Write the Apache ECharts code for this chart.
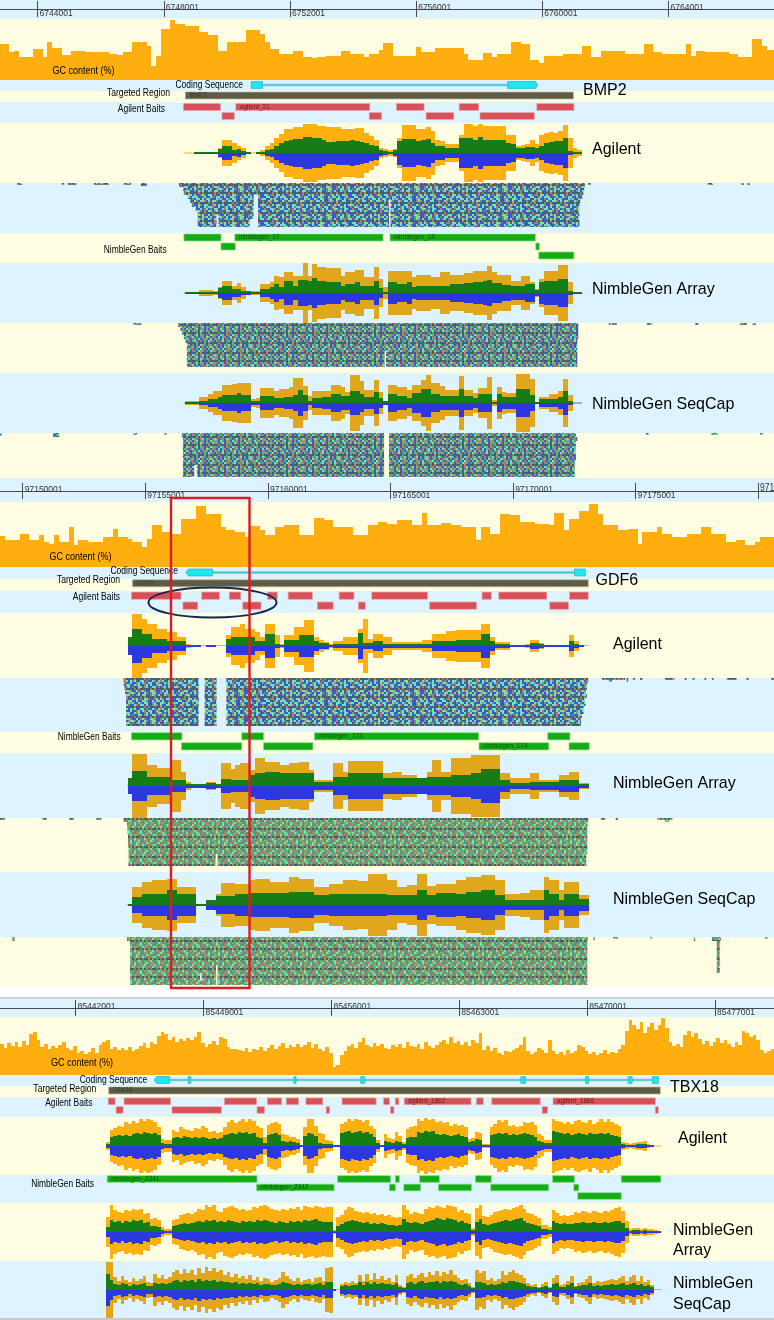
<!DOCTYPE html>
<html>
<head>
<meta charset="utf-8">
<title>Coverage at BMP2, GDF6 and TBX18</title>
<style>
  html, body { margin: 0; padding: 0; background: #fff; }
  #chart { width: 774px; height: 1320px; }
</style>
<script src="https://cdn.jsdelivr.net/npm/echarts@6/dist/echarts.min.js"></script>
</head>
<body>
<div id="chart"></div>
<script>
// genome window shown by each panel (bp)
const bmp2Window = [6742809, 6767345]
const gdf6Window = [97149075, 97180639]
const tbx18Window = [85437863, 85480224]

// ruler ticks, [labels above the line, labels below the line]
const bmp2Ticks = [[6748001, 6756001, 6764001], [6744001, 6752001, 6760001]]
const gdf6Ticks = [[97150001, 97160001, 97170001], [97155001, 97165001, 97175001]]
const gdf6EdgeTick = 97180001
const tbx18Ticks = [[85442001, 85456001, 85470001], [85449001, 85463001, 85477001]]

// GC content, fixed size bins from the left of the window
const bmp2Gc = [36,36,28,29,23,23,23,31,31,23,38,32,32,25,25,29,29,29,28,28,28,28,28,26,26,25,28,28,38,38,38,34,14,24,51,51,60,56,56,54,54,54,48,48,45,45,29,29,38,38,38,38,50,50,50,46,38,31,31,26,26,26,29,29,23,23,22,23,23,24,24,24,29,29,26,26,26,23,26,26,30,37,37,24,24,24,24,24,33,28,28,28,32,32,32,32,32,32,26,20,20,20,27,27,23,26,26,26,38,38,36,36,20,20,17,24,24,24,24,26,26,26,26,34,34,23,23,29,29,29,29,29,26,26,26,26,36,36,28,28,26,26,26,26,26,36,24,29,29,28,28,28,28,28,26,26,23,23,23,41,41,34,30,30]
const gdf6Gc = [31,27,27,27,33,33,27,27,32,25,23,32,25,25,40,22,27,27,25,25,25,30,30,38,30,30,28,25,25,20,28,42,42,35,35,33,33,48,48,48,61,61,53,53,53,40,37,37,35,35,30,41,41,37,32,32,40,40,42,42,42,32,32,32,49,49,47,47,40,40,40,40,32,32,32,42,42,45,45,43,43,47,47,47,42,42,54,42,42,42,44,44,42,42,40,40,40,27,40,40,33,33,53,53,52,52,45,45,45,43,43,43,42,54,54,37,48,48,56,56,63,63,53,42,42,42,37,37,38,38,23,35,35,35,40,33,33,30,30,30,33,33,33,40,40,33,33,33,25,25,27,27,22,22,25,30,30,30]
const tbx18Gc = [31,27,32,29,33,28,34,30,41,43,35,28,31,26,29,27,30,33,27,25,29,22,24,21,23,27,22,30,33,35,26,28,25,27,25,28,24,26,29,32,27,33,31,39,43,41,35,38,33,36,34,37,35,38,43,32,28,31,34,30,38,36,28,26,26,25,24,27,23,26,25,28,24,27,30,26,29,32,27,30,28,31,28,30,33,27,31,26,24,28,22,8,10,20,24,29,31,27,33,37,30,28,32,29,31,27,26,30,28,31,27,33,29,28,31,26,33,29,27,30,33,35,31,38,32,34,30,33,29,35,32,42,25,29,24,27,22,20,24,23,25,27,30,38,24,21,23,27,25,22,35,24,21,23,20,25,22,24,30,28,24,21,23,20,22,25,21,23,22,26,30,44,55,50,46,53,42,48,52,45,50,57,47,33,29,31,28,40,44,38,42,36,31,34,29,33,37,32,35,31,28,33,30,44,42,38,40,35,25,22,24,26]

// coverage bins: total depth and the strand coloured part of it
const bmp2AgilentTotal = [0,0,1,1,1,1,1,5,13,13,10,7,5,1,0,1,3,7,10,15,19,24,24,26,26,29,29,29,27,27,26,26,26,24,24,24,25,25,20,17,13,5,4,3,4,15,28,28,28,24,24,26,22,13,12,9,9,9,18,29,29,27,29,27,27,27,27,27,18,18,7,8,9,13,9,18,20,21,20,22,28,15,5,3]
const bmp2AgilentStrand = [0,0,1,1,1,1,1,4,7,7,3,4,2,1,0,1,1,3,4,7,10,12,13,14,14,16,16,15,15,13,11,11,12,12,12,13,12,11,10,8,7,3,2,1,3,12,14,14,14,12,13,14,10,7,7,5,5,5,15,15,15,13,16,13,13,13,13,13,10,9,5,5,6,6,5,7,10,11,12,12,15,2,1,1]
const bmp2ArrayTotal = [1,1,1,3,3,3,2,6,12,12,7,10,6,2,2,2,9,9,11,17,16,21,21,17,17,30,17,29,26,26,25,25,25,17,21,21,23,23,16,16,26,14,6,22,22,22,22,22,16,18,18,18,16,16,21,21,18,18,18,20,20,22,22,22,27,21,18,18,18,12,12,17,17,11,4,14,22,22,22,28,28,11,1,1]
const bmp2ArrayStrand = [1,1,1,1,1,1,1,5,7,7,4,4,2,2,1,1,4,4,6,9,6,12,12,7,13,13,12,15,12,12,11,11,11,7,9,9,11,7,7,7,12,5,1,11,11,9,9,11,6,7,7,7,7,7,7,7,9,9,9,10,10,11,11,12,13,10,10,8,8,7,7,7,9,9,3,11,12,12,12,14,14,2,1,1]
const bmp2SeqCapTotal = [2,2,2,6,6,9,12,12,18,18,19,20,20,20,4,5,15,15,15,12,14,14,16,25,25,17,7,12,12,12,12,18,18,16,11,28,28,22,13,13,23,11,2,18,18,16,16,13,18,18,23,28,20,20,17,13,13,13,27,13,13,10,15,15,26,3,16,11,10,10,29,29,29,24,1,6,6,9,9,12,24,8,0,0]
const bmp2SeqCapStrand = [1,1,1,2,2,4,4,6,8,8,8,10,8,8,2,2,7,7,7,5,5,6,6,8,13,8,2,5,5,6,6,9,9,7,7,12,12,9,6,6,11,5,2,9,9,7,7,5,10,10,14,14,9,9,7,7,7,7,14,7,7,5,9,9,9,1,9,6,6,6,14,14,14,8,1,4,4,4,4,6,12,2,0,0]

const gdf6AgilentTotal = [9,32,32,27,22,22,17,17,14,14,9,9,2,1,1,0,1,1,0,0,11,19,19,22,17,17,14,9,22,22,11,2,11,11,19,19,26,26,9,6,4,2,5,5,9,9,9,17,27,7,12,12,9,9,4,4,4,4,4,4,6,6,12,12,12,15,15,16,16,16,16,16,22,22,9,4,4,4,1,1,1,2,6,6,3,1,1,1,1,1,11,5,1,0]
const gdf6AgilentStrand = [9,17,17,12,12,7,7,7,5,5,5,5,1,1,1,0,1,1,0,0,7,9,9,9,9,9,5,5,12,12,2,1,6,6,6,11,11,11,5,3,3,1,2,2,2,2,2,13,3,3,5,5,2,2,2,2,2,2,2,2,2,2,5,5,5,5,5,6,6,6,6,6,12,12,5,2,2,2,1,1,1,1,3,3,2,1,1,1,1,1,5,2,1,0]
const gdf6ArrayTotal = [8,32,32,32,21,21,18,18,18,26,26,14,4,2,2,1,4,4,2,23,23,17,21,23,23,16,28,28,24,24,24,21,21,23,23,24,24,16,6,6,6,6,23,23,14,25,25,25,25,25,25,25,13,13,14,14,11,11,11,8,8,14,26,26,14,14,28,28,28,28,31,31,31,31,31,31,13,13,8,8,8,8,13,13,6,6,6,6,11,11,14,14,3,3]
const gdf6ArrayStrand = [8,15,15,15,9,9,9,9,9,6,6,6,2,2,2,2,3,3,2,7,7,6,6,6,6,11,13,13,14,14,14,13,13,13,13,13,13,13,4,4,4,4,9,9,9,13,13,13,13,13,13,13,8,8,8,8,8,8,8,8,8,9,9,9,9,9,11,11,11,11,13,13,17,17,17,17,6,6,3,3,3,3,4,4,4,4,4,4,6,6,6,6,2,2]
const gdf6SeqCapTotal = [1,18,18,23,23,25,25,25,26,26,18,18,18,18,1,1,5,5,11,22,22,22,21,21,21,25,26,26,26,23,23,23,23,28,28,26,26,26,18,18,18,21,21,21,25,25,25,24,24,31,31,31,31,25,25,18,18,20,20,31,31,19,19,21,21,21,21,25,25,28,28,28,30,30,30,25,25,11,11,11,12,12,15,15,15,28,25,25,15,23,23,23,10,10]
const gdf6SeqCapStrand = [1,8,8,11,11,11,11,11,15,15,11,11,11,11,1,1,5,5,9,9,9,9,11,11,11,12,12,12,12,12,12,12,12,13,13,13,13,13,10,10,10,11,11,11,11,11,11,11,11,11,11,11,11,10,10,10,10,10,10,15,15,10,10,12,12,12,12,11,11,13,13,13,15,15,15,10,10,5,5,5,5,5,5,5,5,15,11,11,5,11,11,11,6,6]

const tbx18AgilentTotal = [4,16,18,20,19,24,22,25,23,27,25,27,26,24,19,7,6,6,16,14,19,17,16,15,18,17,20,18,14,15,13,14,19,24,26,23,25,27,24,27,25,20,18,9,21,23,24,22,12,11,9,9,7,1,19,27,27,20,13,12,6,5,1,1,22,24,27,25,27,26,24,26,20,17,6,1,12,8,7,14,10,4,17,19,20,27,25,28,26,27,24,25,23,24,20,22,20,21,19,7,8,14,13,2,2,19,22,26,24,26,20,21,19,20,24,23,24,21,12,10,6,6,27,25,24,22,24,22,25,26,24,23,26,22,24,27,24,27,24,22,20,4,3,2,3,4,4,5,2,1,0,0]
const tbx18AgilentStrand = [2,9,10,11,10,11,10,12,13,12,14,13,12,13,11,3,2,2,8,9,8,10,9,8,9,8,9,8,7,8,7,8,11,12,13,12,14,13,14,12,13,9,8,3,11,12,13,11,5,4,5,4,3,1,10,13,12,10,3,2,2,2,1,1,13,14,15,13,14,15,13,14,12,9,3,1,5,4,3,5,4,2,8,9,9,14,13,15,14,15,12,11,12,11,10,11,12,10,9,4,5,7,6,1,1,11,12,13,12,13,11,12,11,12,13,12,11,9,5,4,3,3,15,14,13,12,13,11,12,13,12,11,13,12,12,13,12,13,11,10,9,2,1,1,1,2,2,2,1,1,0,0]
const tbx18ArrayTotal = [15,27,22,20,19,22,21,23,22,23,18,19,13,14,12,5,3,3,12,13,17,18,19,18,20,23,22,27,25,27,21,20,24,25,26,24,22,23,21,22,25,24,26,27,25,23,22,21,23,22,24,23,25,22,26,25,24,26,25,24,25,25,2,15,17,22,25,24,21,20,19,20,18,19,17,18,16,17,15,14,15,27,22,18,20,19,18,23,25,24,26,25,24,27,26,25,20,22,19,18,4,24,27,16,15,17,20,21,22,23,22,24,25,27,23,19,18,16,14,7,7,5,22,19,16,17,16,17,20,19,21,20,19,21,20,19,21,20,22,24,25,21,11,3,4,4,3,4,3,3,2,1]
const tbx18ArrayStrand = [5,12,10,11,9,11,10,12,11,12,9,10,6,6,5,2,1,1,6,7,8,9,8,9,10,11,10,12,11,12,10,11,10,12,11,10,9,11,10,11,10,12,11,12,11,10,9,11,10,9,11,10,11,10,12,11,12,13,11,10,10,10,1,6,8,10,11,12,11,10,9,10,8,9,8,9,8,7,7,6,7,13,10,9,10,9,8,10,11,12,14,13,12,14,13,12,10,11,9,8,2,10,13,8,7,8,9,10,11,12,11,12,13,14,11,9,8,7,6,3,3,2,11,9,8,9,8,8,9,9,10,9,9,10,9,9,10,9,10,11,11,9,4,1,2,2,1,2,1,1,1,1]
const tbx18SeqCapTotal = [28,28,13,9,14,10,8,12,9,11,14,8,7,16,12,15,11,13,18,20,16,21,17,20,15,22,17,23,19,22,18,20,15,18,13,16,12,14,11,15,10,13,9,12,11,8,10,12,18,14,11,9,12,8,10,11,8,12,13,9,22,23,1,0,6,8,7,9,7,15,9,16,10,17,11,14,10,12,8,15,5,3,14,16,12,15,17,13,18,15,19,14,18,16,20,15,12,10,11,7,3,20,17,19,10,12,9,11,19,15,18,20,17,15,12,7,5,6,3,6,8,3,12,15,5,6,9,14,4,7,8,11,14,7,9,8,9,10,11,10,12,14,9,13,15,9,14,8,10,5,0,0]
const tbx18SeqCapStrand = [16,10,6,5,7,6,4,6,5,6,7,4,4,7,6,7,6,7,9,10,8,10,9,10,8,11,9,10,9,10,8,9,8,8,7,8,6,7,6,7,6,7,5,6,6,5,5,6,8,7,6,5,6,5,6,6,5,6,7,5,8,8,1,0,4,5,4,5,5,8,5,8,6,8,6,7,6,6,5,7,3,2,7,8,6,8,9,7,8,8,9,7,9,8,9,8,6,5,6,4,2,8,8,7,5,6,5,6,8,7,9,9,8,7,6,4,3,3,2,3,4,2,6,7,3,3,5,7,3,4,5,5,7,4,5,4,5,5,6,5,6,7,5,6,7,5,6,4,5,3,0,0]

// intervals in bp from the left of the window: [start, end, row, name]
const bmp2Cds = [[7960, 8321, 0, 0], [16093, 17049, 0, 1]]
const bmp2CdsLine = [[8321, 16093, 0]]
const bmp2Target = [[5876, 18177, 0, 'BMP2']]
const bmp2AgilentBaits = [[5814,6989,0],[7475,11721,0,'agilent_21'],[12567,13445,0],[14557,15169,0],[17018,18193,0],[7036,7428,1],[11705,12097,1],[13508,14385,1],[15216,16939,1]]
const bmp2NimbleBaits = [[5829,7005,0],[7443,12144,0,'nimblegen_17'],[12364,16971,0,'nimblegen_18'],[7005,7459,1],[16986,17096,1],[17080,18193,2]]

const gdf6Cds = [[7580, 8669, 0, -1], [23426, 23869, 0, 0]]
const gdf6CdsLine = [[8669, 23426, 0]]
const gdf6Target = [[5403, 23990, 0, 'GDF6']]
const gdf6AgilentBaits = [[5363,7379,0],[8225,8951,0],[9354,9818,0],[10907,11310,0],[11753,12741,0],[13830,14435,0],[15160,17438,0],[19656,20039,0],[20341,22297,0],[23224,23990,0],[7459,8064,1],[9899,10644,1],[12943,13588,1],[14616,14898,1],[17519,19434,1],[22418,23184,1]]
const gdf6NimbleBaits = [[5363,7419,0],[9858,10745,0],[12822,19515,0,'nimblegen_173'],[22337,23244,0],[7399,9858,1],[10745,12761,1],[19535,22378,1,'nimblegen_174'],[23204,24031,1]]

const tbx18Cds = [[8440,9278,0,-1],[10306,10441,0,0],[16095,16203,0,0],[19747,19963,0,0],[28511,28754,0,0],[32054,32217,0,0],[34381,34597,0,0],[35706,36031,0,0]]
const tbx18CdsLine = [[9278, 35706, 0]]
const tbx18Target = [[5951, 36139, 0, 'TBX18']]
const tbx18AgilentBaits = [[5924,6303,0],[6790,9332,0],[12281,14039,0],[14634,15419,0],[15662,16338,0],[16744,17664,0],[18719,20585,0],[20991,21315,0],[21640,21829,0],[22127,25779,0,'agilent_1862'],[26076,26455,0],[26915,29566,0],[30269,35868,0,'agilent_1866'],[6357,6735,1],[9413,12118,1],[14066,14472,1],[17853,18042,1],[21370,21559,1],[29674,29971,1],[35868,36031,1]]
const tbx18NimbleBaits = [[5870,14066,0,'nimblegen_2341'],[18475,21370,0],[21640,21856,0],[22965,24047,0],[26022,26888,0],[30242,31432,0],[34003,36166,0],[14039,18286,1,'nimblegen_2342'],[21315,21640,1],[22100,23020,1],[23993,25806,1],[26861,30026,1],[31405,31676,1],[31621,34003,2]]

// read stacks, each row: left edge, right edge; gaps and stray reads [start, end, fromRow, toRow]
const bmp2AgilentLeft = [5673,5798,5829,5955,6033,6080,6190,6268,6268,6268,6268]
const bmp2AgilentRight = [18538,18520,18491,18459,18400,18365,18365,18365,18365,18365,18365]
const bmp2AgilentGaps = [[8039,8180,3,11],[12332,12379,4,11],[6864,6926,8,11],[7913,8039,9,11]]
const bmp2AgilentStray = [[548,705,0,0.45],[1959,2037,0,0.45],[2147,2429,0,0.45],[2977,3447,0,0.45],[3917,4152,0,0.45],[4466,4654,0,0.7],[18648,18726,0,0.45],[22440,22597,0,0.45],[23505,23583,0,0.45],[23693,23771,0,0.45]]
const bmp2ArrayLeft = [5641,5720,5767,5829,5876,5923,5923,5923,5923,5923,5923]
const bmp2ArrayRight = [18334,18334,18334,18334,18300,18300,18300,18300,18300,18300,18300]
const bmp2ArrayGaps = [[12191,12238,7,11]]
const bmp2ArrayStray = [[4230,4480,0,0.45],[19300,19550,0,0.45],[20500,20680,0,0.45],[22030,22150,0,0.45],[23450,23680,0,0.45],[23850,23960,0,0.45]]
const bmp2SeqCapLeft = [5767,5798,5798,5798,5798,5798,5798,5798,5798,5798,5798]
const bmp2SeqCapRight = [18255,18300,18255,18255,18255,18255,18255,18220,18220,18220,18220]
const bmp2SeqCapGaps = [[12176,12332,0,11],[6158,6237,8,11]]
const bmp2SeqCapStray = [[0,50,0,0.6],[1680,1880,0,1],[4230,4350,0,0.45],[5210,5290,0,0.45],[20480,20560,0,0.45],[22550,22760,0,0.45],[24100,24200,0,0.45]]

const gdf6AgilentLeft = [5040,5040,5080,5100,5141,5141,5141,5141,5141,5141,5141,5141]
const gdf6AgilentRight = [23990,23950,23930,23890,23930,23850,23880,23800,23800,23730,23688,23688]
const gdf6AgilentGaps = [[8104,8346,0,12],[8830,9233,0,12]]
const gdf6AgilentStray = [[24550,25500,0,0.45],[24800,24950,0.4,0.9],[25560,25620,0,0.9],[25800,25900,0,0.45],[26100,26200,0,0.45],[27120,27500,0,0.45],[27920,28000,0,0.45],[28230,28330,0,0.45],[28730,28800,0,0.45],[29030,29100,0,0.45],[29630,30040,0,0.45],[30440,30530,0,0.45],[31450,31560,0,0.45]]
const gdf6ArrayLeft = [5040,5180,5201,5201,5220,5220,5220,5240,5240,5240,5240,5240]
const gdf6ArrayRight = [23990,23970,23950,23950,23950,23950,23950,23950,23950,23910,23910,23910]
const gdf6ArrayGaps = [[8790,8870,9,12]]
const gdf6ArrayStray = [[0,200,0,0.45],[1710,1910,0,0.45],[2820,3020,0,0.45],[3930,4130,0,0.45],[24500,24700,0,0.45],[25100,25200,0,0.45],[26810,27420,0,0.45],[27120,27300,0.4,1]]
const gdf6SeqCapLeft = [5180,5302,5302,5302,5302,5302,5302,5302,5302,5302,5302,5302]
const gdf6SeqCapRight = [23970,23950,23950,23950,23950,23950,23950,23950,23950,23950,23950,23950]
const gdf6SeqCapGaps = [[8810,8870,7,12],[8165,8225,9,11]]
const gdf6SeqCapStray = [[500,600,0,1],[24190,24260,0,0.8],[25000,25200,0,0.45],[26520,26600,0,0.45],[28290,28350,0,1],[29030,29400,0,1],[29230,29350,0,9],[31200,31300,0,0.45]]

// texture of the read stacks, one letter per base call
const baseColors = { B: '#3c58d2', M: '#6fe8a4', S: '#c9775e', G: '#5f9a68', D: '#4e5f58', L: '#58c468', P: '#6f7fa8' }
const blueReads = [
  'BMMBBSMBMMMBBGMBBMSBMMBBMBBMMSBBMBMMBMBBGMBB',
  'MBBMGMBBSBMMBMBMMBBBMSMBBMGBMMBBSMBBMMGBMBSM',
  'BBMSBMMBBMGBMMSBMBMMGBBMSBMMBMBBGMSBMBBMMBBG',
  'DGDSDDBDGDDSDBDDGDSDBDDGDDBDSDGDDBDDSDGDBDDS',
  'MBSBMBMMGBBMSBMMBBSMBMGMBBMMBSBBMGBMSMBBMBMM',
  'BMMGBBMSBMBMBBMGMMSBBMBBGMBMSBMMBBMSBBMGMBBS',
  'SBBMMSBGMMBBMBSMBGBMMBBMSMBBGMBMBBSMMBGBMMBB',
  'MGBBMBMSBBMMGBSBMMBSMBGBBMMBSMBBMMBGBSMBMBBM',
  'DDSDBDGDDBDSDDGDBDSDDBDGDSDDBDDGDSDBDDGDDSDB',
  'BMBSMMBBGMBMSMBBMBGMMSBBMBSMGBBMMSBBGMBMBSMB',
  'GBMMBSBMBMGBBMSMBMBBSMMGBMBBMSBGMMBBSBMMBGMB',
  'BSMBGMMBBSBMGMBBMSBMMBGBSMBMMBBGMSBMBBMGSBMM',
  'DBDDGDSDBDDSDGDDBDDSDGDBDDGDSDDBDGDDSDBDGDDB',
  'MMBGSBMMBMBBSMGBMMBSBBMGMBSBMMGBBSMBMGBMMSBB'
]
const mixedReads = [
  'LSGPLMSGLPSMGLSPMGLSGMPLSMGPLSGMLPGSMLGPSLMG',
  'PMLSGMPLGSMLPGSLMPGLSMGPMLGSPMLSGPLMGSPLMSGL',
  'GLPMSLGPMSGLMPSGLPMLSGPLMSGMLPSGLMPGSLMGPLSM',
  'DPDSDGDDLDSDPDGDSDDPDLDSDGDPDDSDLDGDPDSDDGDL',
  'MSGLPGMSLPGMLSGPMLSGMLPGSMLPLGSMGPLMSGLPMSGP',
  'LGPSMLGPSMGLPMLSGPMGSLPMGLSPLMGSLPGMSLGPLMGS',
  'SPLMGSLPMGSLGMPSLGMPLSGMPGLSMGPLSMGLPSGMLPSG',
  'GMSLPLGMSPGLMSGLPMSPLGMSGLPMLGSPMGLSMPGLSPLM',
  'DSDGDDPDLDDSDGDPDDLDSDDGDPDLDSDGDDPDSDLDGDDP',
  'PLGMSLPGSMLGPLMSGPLSMGLPGSMPLGMLSPGMLGSPLMGS',
  'MSPLGMPSLGMLPSGMLPGSMLGPSLMGPLSMGPLGSMLPGSML',
  'LGMSPLSGMPLMGSPLGMSLPMGLSGPMLSPGLMSGPLMGSPLG',
  'DGDPDSDDLDGDSDPDDGDLDSDPDDGDSDLDPDGDDSDPDLDG',
  'GPSLMGPLSMGPLMSGLPSMGLPMSLGPMSGLMPLSGMPLGSMP'
]
const deepReads = [
  'BMSBLGBSMBLBGSBMLBSGBMBLSBGMBSLBMGBSBLMBGSBM',
  'GBLSBMGBSLBMBGLSBMBSGLBMBSBLGMBSBMLGBSMBLGBS',
  'SLBGMBSBLMGBSBLBMSGBLBSMBGLBSMBLGBSBMLGSBMBL',
  'DBDSDGDBDDLDBDSDGDBDDSDBDGDDLDBDSDBDGDDBDSDG',
  'LBGBSMLBGBSBMLGBSLBMGBSBLGMBSLBGMBSBLMGBSLBM',
  'BSLMBGBSLBGMBSBLGMSBLBGBMSLBGBMLSBGBLMSBGLBS',
  'MGBSLBMGSBLBMSGBLBMGSLBMBGSLBMGBSLBMBGSLMBGB',
  'BLSGBMLBSGBMLSBGBMLSBGLBMSGBLMBSGLBMSBGLBMSG',
  'DSDBDGDDBDLDSDBDDGDBDSDLDBDGDDBDSDDLDBDGDSDB',
  'SBMGLBSBMLGBSMBLGBSMLBGSBMLGBSMBLGSBMLBGSBML',
  'GLBSBMGLBSMBGLBSBMGLSBMGBLSBMGLBSBMGLSBMGLBS',
  'BMSLGBMBSLGBMSBLGBMSLBGMBSLGBMSBLGBMSLBGMBSL',
  'DBDGDSDBDDGDLDBDSDDBDGDBDSDLDBDDGDSDBDLDGDBD',
  'LSBGBMLSBGMBLSBGBMLSGBMLBSGBMLSBGMBLSGBMLBSG'
]

// colours
const bandBlue = '#ddf3ff'
const bandYellow = '#fffee2'
const gcColor = '#ffae10'
const brightDepth = '#fdb010'
const dullDepth = '#e0a61c'
const forwardColor = '#167d16'
const reverseColor = '#2b38e0'
const fontFamily = '"Liberation Sans", Arial, sans-serif'

// the photo is soft, so the tile gets a small blur, wrapped round its edges
function makeTile(rows) {
  const raw = document.createElement('canvas')
  raw.width = rows[0].length * 2
  raw.height = rows.length * 2
  const rawCtx = raw.getContext('2d')
  rows.forEach((row, y) => {
    row.split('').forEach((base, x) => {
      rawCtx.fillStyle = baseColors[base]
      rawCtx.fillRect(x * 2, y * 2, 2, 2)
    })
  })
  const canvas = document.createElement('canvas')
  canvas.width = raw.width
  canvas.height = raw.height
  const ctx = canvas.getContext('2d')
  ctx.filter = 'blur(0.6px)'
  for (let dx = -1; dx <= 1; dx++) {
    for (let dy = -1; dy <= 1; dy++) {
      ctx.drawImage(raw, dx * raw.width, dy * raw.height)
    }
  }
  return { image: canvas, repeat: 'repeat' }
}

const blueTile = makeTile(blueReads)
const mixedTile = makeTile(mixedReads)
const deepTile = makeTile(deepReads)

let grids = []
let xAxes = []
let yAxes = []
let series = []
let texts = []

function addTrack(win, top, height, bg, yMin, yMax, inverse) {
  grids.push({ show: true, left: 0, width: 774, top: top, height: height, backgroundColor: bg, borderWidth: 0 })
  xAxes.push({ type: 'value', gridIndex: grids.length - 1, min: win[0], max: win[1], show: false })
  yAxes.push({ type: 'value', gridIndex: grids.length - 1, min: yMin, max: yMax, inverse: !!inverse, show: false })
  return grids.length - 1
}

function addRuler(win, ticks, top, line, bottom, edgeTick) {
  const all = ticks[0].concat(ticks[1], edgeTick ? [edgeTick] : [])
  const parts = [[top, line - top, 'bottom', ticks[0], -3], [line, bottom - line, 'top', ticks[1], 0]]
  parts.forEach(p => {
    grids.push({ show: true, left: 0, width: 774, top: p[0], height: p[1], backgroundColor: bandBlue, borderWidth: 0 })
    xAxes.push({
      type: 'value',
      gridIndex: grids.length - 1,
      min: win[0],
      max: win[1],
      position: p[2],
      axisLine: { show: true, onZero: false, lineStyle: { color: '#4a4a4a', width: 1 } },
      axisTick: { show: true, inside: true, length: 8, customValues: all, lineStyle: { color: '#4a4a4a', width: 1 } },
      splitLine: { show: false },
      axisLabel: {
        show: true,
        inside: true,
        customValues: p[3],
        align: 'left',
        margin: p[4],
        padding: [0, 0, 0, 2],
        fontFamily: fontFamily,
        fontSize: 8.5,
        color: '#333',
        formatter: v => String(v)
      }
    })
    yAxes.push({ type: 'value', gridIndex: grids.length - 1, min: 0, max: 1, show: false })
  })
}

// one block per bin, edges snapped to whole pixels so neighbours leave no seam
function binSeries(idx, win, start, size, values, sign, color, z) {
  series.push({
    type: 'custom',
    xAxisIndex: idx,
    yAxisIndex: idx,
    silent: true,
    z: z,
    data: values.map((v, i) => [win[0] + start + i * size, win[0] + start + (i + 1) * size, sign * v]),
    renderItem: (params, api) => {
      const a = api.coord([api.value(0), 0])
      const b = api.coord([api.value(1), api.value(2)])
      const x0 = Math.round(a[0])
      const x1 = Math.round(b[0])
      const y0 = Math.round(Math.min(a[1], b[1]))
      const y1 = Math.round(Math.max(a[1], b[1]))
      return {
        type: 'rect',
        shape: { x: x0, y: y0, width: x1 - x0, height: y1 - y0 },
        style: { fill: color }
      }
    }
  })
}

function addGc(win, top, height, size, values) {
  const idx = addTrack(win, top, height, bandYellow, 0, height)
  binSeries(idx, win, 0, size, values, 1, gcColor, 2)
}

function addCoverage(win, top, height, bg, start, size, total, strand, depthColor, baseColor) {
  const idx = addTrack(win, top, height, bg, -height / 2, height / 2)
  series.push({
    type: 'line',
    xAxisIndex: idx,
    yAxisIndex: idx,
    symbol: 'none',
    silent: true,
    z: 1,
    lineStyle: { color: baseColor, width: 1 },
    data: [[win[0] + start, 0], [win[0] + start + total.length * size, 0]]
  })
  binSeries(idx, win, start, size, total, 1, depthColor, 2)
  binSeries(idx, win, start, size, total, -1, depthColor, 2)
  binSeries(idx, win, start, size, strand, 1, forwardColor, 3)
  binSeries(idx, win, start, size, strand, -1, reverseColor, 3)
}

function addIntervals(idx, win, list, barHeight, fill, stroke, nameColor) {
  series.push({
    type: 'custom',
    xAxisIndex: idx,
    yAxisIndex: idx,
    silent: true,
    z: 3,
    data: list.map(d => [win[0] + d[0], win[0] + d[1], d[2]]),
    renderItem: (params, api) => {
      const a = api.coord([api.value(0), api.value(2)])
      const b = api.coord([api.value(1), api.value(2)])
      const name = list[params.dataIndex][3]
      let children = [{
        type: 'rect',
        shape: { x: a[0], y: a[1] - barHeight / 2, width: b[0] - a[0], height: barHeight },
        style: { fill: fill, stroke: stroke, lineWidth: 0.7 }
      }]
      if (name) {
        children.push({
          type: 'text',
          style: {
            x: a[0] + 4,
            y: a[1],
            text: name,
            fill: nameColor,
            font: '6.5px ' + fontFamily,
            textAlign: 'left',
            textVerticalAlign: 'middle'
          }
        })
      }
      return { type: 'group', children: children }
    }
  })
}

function addRowTrack(win, top, height, bg, firstRowY, pitch) {
  return addTrack(win, top, height, bg, (top - firstRowY) / pitch, (top + height - firstRowY) / pitch, true)
}

function addCds(win, top, height, bg, cds, line) {
  const rowY = top + height / 2 - 0.5
  const idx = addRowTrack(win, top, height, bg, rowY, 10)
  addIntervals(idx, win, line, 1.6, '#52c5d5', '#52c5d5', '#000')
  series.push({
    type: 'custom',
    xAxisIndex: idx,
    yAxisIndex: idx,
    silent: true,
    z: 4,
    data: cds.map(d => [win[0] + d[0], win[0] + d[1], d[2], d[3]]),
    renderItem: (params, api) => {
      const a = api.coord([api.value(0), api.value(2)])
      const b = api.coord([api.value(1), api.value(2)])
      const dir = api.value(3)
      const h = 3.4
      const tipL = dir < 0 ? 2.5 : 0
      const tipR = dir > 0 ? 2.5 : 0
      return {
        type: 'polygon',
        shape: {
          points: [
            [a[0], a[1]],
            [a[0] + tipL, a[1] - h],
            [b[0] - tipR, b[1] - h],
            [b[0], b[1]],
            [b[0] - tipR, b[1] + h],
            [a[0] + tipL, a[1] + h]
          ]
        },
        style: { fill: '#1ce8f2', stroke: '#3fb0b8', lineWidth: 0.8 }
      }
    }
  })
}

function addTarget(win, top, height, bg, firstRowY, list) {
  const idx = addRowTrack(win, top, height, bg, firstRowY, 10)
  addIntervals(idx, win, list, 7, '#5e5c48', '#b5b4a0', '#3f3e30')
}

function addBaits(win, top, height, bg, firstRowY, pitch, barHeight, list, fill, stroke, nameColor) {
  const idx = addRowTrack(win, top, height, bg, firstRowY, pitch)
  addIntervals(idx, win, list, barHeight, fill, stroke, nameColor)
}

function addReads(win, top, height, bg, left, right, gaps, stray, tile) {
  const rowPx = 4
  const idx = addTrack(win, top, height, bg, 0, height / rowPx, true)
  let segments = stray.slice()
  left.forEach((from, row) => {
    let cuts = gaps.filter(g => g[2] <= row && row < g[3]).sort((p, q) => p[0] - q[0])
    let x = from
    cuts.forEach(g => {
      if (g[0] > x) segments.push([x, g[0], row, row + 1])
      x = Math.max(x, g[1])
    })
    segments.push([x, right[row], row, row + 1])
  })
  series.push({
    type: 'custom',
    xAxisIndex: idx,
    yAxisIndex: idx,
    silent: true,
    z: 3,
    data: segments.map(s => [win[0] + s[0], win[0] + s[1], s[2], s[3]]),
    renderItem: (params, api) => {
      const a = api.coord([api.value(0), api.value(2)])
      const b = api.coord([api.value(1), api.value(3)])
      return {
        type: 'rect',
        shape: { x: a[0], y: a[1], width: b[0] - a[0], height: b[1] - a[1] },
        style: { fill: tile }
      }
    }
  })
}

function addText(text, x, y, size, align, color) {
  texts.push({
    type: 'text',
    x: x,
    y: y,
    z: 50,
    silent: true,
    scaleY: size < 10 ? 1.2 : 1.05,
    style: {
      text: text,
      fill: color || '#000',
      font: size + 'px ' + fontFamily,
      textAlign: align || 'left',
      textVerticalAlign: 'middle'
    }
  })
}

const redBait = '#d9505a'
const redEdge = '#e8a8a0'
const greenBait = '#12ad12'
const greenEdge = '#8ad88a'
const grayBase = '#6b6b60'

// BMP2 panel
addRuler(bmp2Window, bmp2Ticks, 0, 9, 19)
addGc(bmp2Window, 19, 61, 150, bmp2Gc)
addCds(bmp2Window, 80, 11, bandBlue, bmp2Cds, bmp2CdsLine)
addTarget(bmp2Window, 91, 11, bandYellow, 95.5, bmp2Target)
addBaits(bmp2Window, 102, 21, bandBlue, 107, 9, 7, bmp2AgilentBaits, redBait, redEdge, '#6d1c20')
addCoverage(bmp2Window, 123, 60, bandYellow, 5850, 150, bmp2AgilentTotal, bmp2AgilentStrand, brightDepth, brightDepth)
addReads(bmp2Window, 183, 50, bandBlue, bmp2AgilentLeft, bmp2AgilentRight, bmp2AgilentGaps, bmp2AgilentStray, blueTile)
addBaits(bmp2Window, 233, 30, bandYellow, 237.5, 9, 7, bmp2NimbleBaits, greenBait, greenEdge, '#0a5a0a')
addCoverage(bmp2Window, 263, 60, bandBlue, 5850, 150, bmp2ArrayTotal, bmp2ArrayStrand, dullDepth, grayBase)
addReads(bmp2Window, 323, 50, bandYellow, bmp2ArrayLeft, bmp2ArrayRight, bmp2ArrayGaps, bmp2ArrayStray, deepTile)
addCoverage(bmp2Window, 373, 60, bandBlue, 5850, 150, bmp2SeqCapTotal, bmp2SeqCapStrand, dullDepth, grayBase)
addReads(bmp2Window, 433, 45, bandYellow, bmp2SeqCapLeft, bmp2SeqCapRight, bmp2SeqCapGaps, bmp2SeqCapStray, deepTile)

// GDF6 panel
addRuler(gdf6Window, gdf6Ticks, 478, 491, 502, gdf6EdgeTick)
addGc(gdf6Window, 502, 65, 200, gdf6Gc)
addCds(gdf6Window, 567, 12, bandBlue, gdf6Cds, gdf6CdsLine)
addTarget(gdf6Window, 579, 12, bandYellow, 583.3, gdf6Target)
addBaits(gdf6Window, 591, 22, bandBlue, 595.7, 10, 7.3, gdf6AgilentBaits, redBait, redEdge, '#6d1c20')
addCoverage(gdf6Window, 613, 65, bandYellow, 5200, 200, gdf6AgilentTotal, gdf6AgilentStrand, brightDepth, brightDepth)
addReads(gdf6Window, 678, 54, bandBlue, gdf6AgilentLeft, gdf6AgilentRight, gdf6AgilentGaps, gdf6AgilentStray, blueTile)
addBaits(gdf6Window, 732, 21, bandYellow, 736.3, 10, 7.2, gdf6NimbleBaits, greenBait, greenEdge, '#0a5a0a')
addCoverage(gdf6Window, 753, 65, bandBlue, 5200, 200, gdf6ArrayTotal, gdf6ArrayStrand, dullDepth, grayBase)
addReads(gdf6Window, 818, 54, bandYellow, gdf6ArrayLeft, gdf6ArrayRight, gdf6ArrayGaps, gdf6ArrayStray, mixedTile)
addCoverage(gdf6Window, 872, 65, bandBlue, 5200, 200, gdf6SeqCapTotal, gdf6SeqCapStrand, dullDepth, grayBase)
addReads(gdf6Window, 937, 50, bandYellow, gdf6SeqCapLeft, gdf6SeqCapRight, gdf6SeqCapGaps, gdf6SeqCapStray, mixedTile)

// TBX18 panel
addRuler(tbx18Window, tbx18Ticks, 998, 1008, 1017)
addGc(tbx18Window, 1017, 58, 200, tbx18Gc)
addCds(tbx18Window, 1075, 11, bandBlue, tbx18Cds, tbx18CdsLine)
addTarget(tbx18Window, 1086, 11, bandYellow, 1090.5, tbx18Target)
addBaits(tbx18Window, 1097, 20, bandBlue, 1101.3, 8.7, 6.7, tbx18AgilentBaits, redBait, redEdge, '#6d1c20')
addCoverage(tbx18Window, 1117, 58, bandYellow, 5800, 200, tbx18AgilentTotal, tbx18AgilentStrand, brightDepth, brightDepth)
addBaits(tbx18Window, 1175, 28, bandBlue, 1179, 8.5, 6.7, tbx18NimbleBaits, greenBait, greenEdge, '#0a5a0a')
addCoverage(tbx18Window, 1203, 58, bandYellow, 5800, 200, tbx18ArrayTotal, tbx18ArrayStrand, brightDepth, brightDepth)
addCoverage(tbx18Window, 1261, 57, bandBlue, 5800, 200, tbx18SeqCapTotal, tbx18SeqCapStrand, dullDepth, brightDepth)

// track names
addText('GC content (%)', 52.4, 70.7, 9)
addText('Coding Sequence', 243, 84.7, 8.5, 'right')
addText('Targeted Region', 170, 93.5, 8.6, 'right')
addText('Agilent Baits', 165, 108.7, 8.5, 'right')
addText('NimbleGen Baits', 166.6, 250, 8.4, 'right')
addText('BMP2', 583, 90, 16)
addText('Agilent', 592, 149.3, 16)
addText('NimbleGen Array', 592, 289.3, 16)
addText('NimbleGen SeqCap', 592, 404.7, 16)

addText(String(gdf6EdgeTick), 760, 488, 8.5, 'left', '#333')
addText('GC content (%)', 49.4, 556.7, 9)
addText('Coding Sequence', 178, 571, 8.5, 'right')
addText('Targeted Region', 120, 580, 8.6, 'right')
addText('Agilent Baits', 120, 597, 8.5, 'right')
addText('NimbleGen Baits', 120.6, 737.7, 8.4, 'right')
addText('GDF6', 595.6, 580, 16)
addText('Agilent', 613, 644, 16)
addText('NimbleGen Array', 613, 783.3, 16)
addText('NimbleGen SeqCap', 613, 899.7, 16)

addText('GC content (%)', 51, 1062.7, 9)
addText('Coding Sequence', 147.3, 1079.7, 8.5, 'right')
addText('Targeted Region', 96.4, 1089, 8.6, 'right')
addText('Agilent Baits', 92.4, 1103, 8.5, 'right')
addText('NimbleGen Baits', 94, 1184.7, 8.4, 'right')
addText('TBX18', 670, 1087.7, 16)
addText('Agilent', 678, 1138.3, 16)
addText('NimbleGen', 673, 1230.7, 16)
addText('Array', 673, 1250.3, 16)
addText('NimbleGen', 673, 1283.3, 16)
addText('SeqCap', 673, 1304, 16)

// hand drawn highlights and panel edges
const marks = [
  { type: 'rect', z: 60, silent: true, shape: { x: 0, y: 997, width: 774, height: 1.5 }, style: { fill: '#c9c9c9' } },
  { type: 'rect', z: 60, silent: true, shape: { x: 0, y: 1318, width: 774, height: 2 }, style: { fill: '#c9c9c9' } },
  { type: 'ellipse', z: 70, silent: true, shape: { cx: 212.5, cy: 602.5, rx: 64, ry: 15 }, style: { fill: 'none', stroke: '#16264e', lineWidth: 2 } },
  { type: 'rect', z: 71, silent: true, shape: { x: 171, y: 498, width: 78.5, height: 490 }, style: { fill: 'none', stroke: '#dc1c24', lineWidth: 2.4 } }
]

const chart = echarts.init(document.getElementById('chart'))
chart.setOption({
  animation: false,
  backgroundColor: '#fff',
  tooltip: { show: false },
  grid: grids,
  xAxis: xAxes,
  yAxis: yAxes,
  series: series,
  graphic: { elements: texts.concat(marks) }
})
</script>
</body>
</html>
